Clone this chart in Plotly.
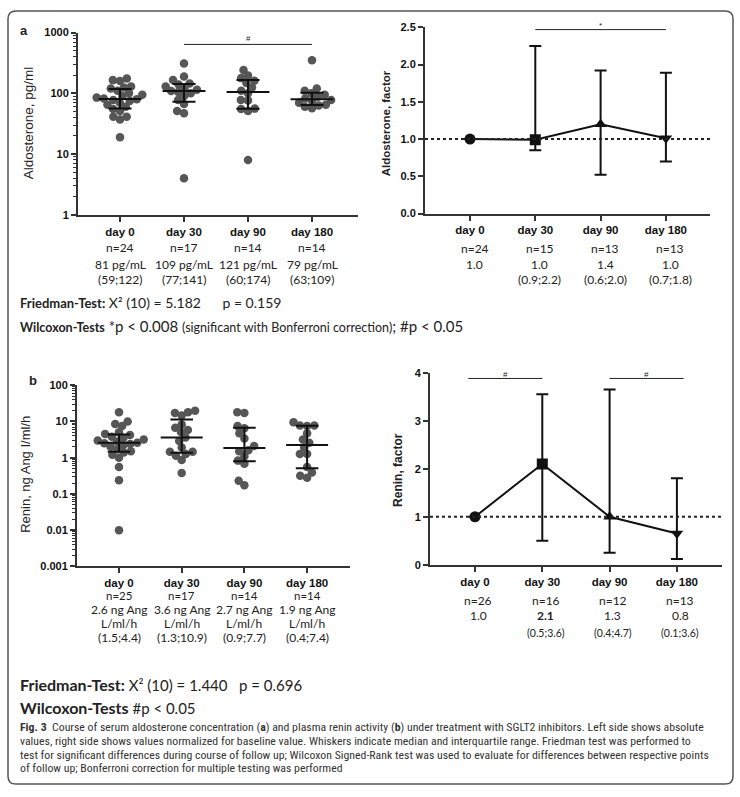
import numpy as np
import plotly.graph_objects as go

W, H = 740, 797


def fx(px):
    return px / W


def fy(py):
    return 1 - py / H


# ---------------- DATA ----------------
days = ["day 0", "day 30", "day 90", "day 180"]

# Aldosterone absolute (pg/ml)
aldo_day0 = [19, 37, 41, 41, 51, 55, 60, 65, 70, 75, 78, 80, 82, 85, 90, 95, 100, 110, 120, 125, 130, 160, 165, 175]
aldo_day30 = [4, 47, 51, 67, 78, 90, 100, 105, 109, 115, 120, 130, 140, 145, 166, 189, 310]
aldo_day90 = [8, 51, 55, 56, 76, 78, 100, 110, 125, 148, 161, 178, 196, 242]
aldo_day180 = [57, 60, 63, 65, 70, 75, 78, 82, 88, 95, 100, 110, 120, 350]
aldo_n = ["n=24", "n=17", "n=14", "n=14"]
aldo_med_text = ["81 pg/mL", "109 pg/mL", "121 pg/mL", "79 pg/mL"]
aldo_iqr_text = ["(59;122)", "(77;141)", "(60;174)", "(63;109)"]

# Aldosterone factor
aldo_f_med = [1.0, 0.99, 1.2, 1.01]
aldo_f_lo = [1.0, 0.85, 0.52, 0.70]
aldo_f_hi = [1.0, 2.25, 1.92, 1.89]
aldo_f_n = ["n=24", "n=15", "n=13", "n=13"]
aldo_f_med_text = ["1.0", "1.0", "1.4", "1.0"]
aldo_f_iqr_text = ["", "(0.9;2.2)", "(0.6;2.0)", "(0.7;1.8)"]

# Renin absolute (ng Ang I/ml/h)
renin_day0 = [0.01, 0.24, 0.55, 1.0, 1.2, 1.4, 1.5, 1.7, 2.0, 2.2, 2.4, 2.5, 2.6, 2.8, 3.0, 3.2, 3.5, 3.8, 4.2, 4.5, 5.0, 7.5, 8.5, 10, 18]
renin_day30 = [0.38, 0.87, 1.14, 1.26, 1.46, 1.46, 1.9, 2.9, 3.6, 5.1, 5.8, 6.7, 8.2, 14.5, 17, 18, 19.7]
renin_day90 = [0.175, 0.23, 0.68, 0.83, 1.1, 1.5, 1.6, 2.1, 3.4, 4.7, 6.5, 7.5, 17, 18]
renin_day180 = [0.28, 0.32, 0.39, 0.55, 1.26, 1.26, 1.9, 2.6, 3.2, 4.7, 7.5, 7.7, 7.7, 9.5]
renin_n = ["n=25", "n=17", "n=14", "n=14"]
renin_med_text = ["2.6 ng Ang", "3.6 ng Ang", "2.7 ng Ang", "1.9 ng Ang"]
renin_unit_text = ["L/ml/h", "L/ml/h", "L/ml/h", "L/ml/h"]
renin_iqr_text = ["(1.5;4.4)", "(1.3;10.9)", "(0.9;7.7)", "(0.4;7.4)"]

# Renin factor
renin_f_med = [1.0, 2.1, 1.0, 0.65]
renin_f_lo = [1.0, 0.5, 0.25, 0.12]
renin_f_hi = [1.0, 3.55, 3.65, 1.8]
renin_f_n = ["n=26", "n=16", "n=12", "n=13"]
renin_f_med_text = ["1.0", "<b>2.1</b>", "1.3", "0.8"]
renin_f_iqr_text = ["", "(0.5;3.6)", "(0.4;4.7)", "(0.1;3.6)"]

symbols = ["circle", "square", "triangle-up", "triangle-down"]

aldo_sig = [(1, 3, "#")]
aldo_f_sig = [(1, 3, "*")]
renin_f_sig = [(0, 1, "#"), (2, 3, "#")]

# ---------------- LAYOUT GEOMETRY (pixels) ----------------
# (x0, x1, ytop, ybottom)
A_L = (78, 358, 27, 212)
A_R = (425, 710, 21.7, 210.7)
B_L = (77, 350, 385, 569)
B_R = (430, 722, 372.3, 567.3)

AXC = "#333333"
PT = "#565656"
FONT_AX = "Arial, Liberation Sans, sans-serif"
FONT_TXT = "Lato, Open Sans, sans-serif"


def swarm(vals, ppd, cat_px, d=7.2):
    ys = np.log10(np.array(vals, float)) * ppd
    order = np.argsort(ys)
    xs = np.zeros(len(vals))
    placed = []
    for i in order:
        yi = ys[i]
        intervals = []
        for j in placed:
            dy = abs(yi - ys[j])
            if dy < d:
                h = np.sqrt(d * d - dy * dy)
                intervals.append((xs[j] - h, xs[j] + h))
        cands = [0.0] + [e for iv in intervals for e in iv]
        cands.sort(key=lambda c: (abs(c), c))
        for c in cands:
            if all(not (a + 1e-6 < c < b - 1e-6) for a, b in intervals):
                xs[i] = c
                break
        placed.append(i)
    return xs / cat_px


fig = go.Figure()


def axis_common():
    return dict(showline=True, linecolor=AXC, linewidth=2, ticks="outside", ticklen=5,
                tickwidth=2, tickcolor=AXC, showgrid=False, zeroline=False, mirror=False)


def add_scatter_panel(groups, ppd, cat_px, xa, ya):
    for k, vals in enumerate(groups):
        off = swarm(vals, ppd, cat_px)
        fig.add_trace(go.Scatter(x=k + off, y=vals, mode="markers", xaxis=xa, yaxis=ya,
                                 marker=dict(color=PT, size=8.5, line=dict(width=0)),
                                 showlegend=False, hoverinfo="y"))
    for k, vals in enumerate(groups):
        q1, med, q3 = np.percentile(vals, [25, 50, 75], method="weibull")
        hw, cw = 0.335, 0.18
        xs = [k - hw, k + hw, None, k - cw, k + cw, None, k - cw, k + cw, None, k, k]
        ys = [med, med, None, q1, q1, None, q3, q3, None, q1, q3]
        fig.add_trace(go.Scatter(x=xs, y=ys, mode="lines", xaxis=xa, yaxis=ya,
                                 line=dict(color="#111111", width=2), showlegend=False,
                                 hoverinfo="skip"))


def add_factor_panel(med, lo, hi, xa, ya):
    xs = list(range(len(med)))
    fig.add_trace(go.Scatter(x=xs, y=med, mode="lines", xaxis=xa, yaxis=ya,
                             line=dict(color="#111111", width=2), showlegend=False))
    for k in xs:
        fig.add_trace(go.Scatter(
            x=[k], y=[med[k]], mode="markers", xaxis=xa, yaxis=ya, showlegend=False,
            marker=dict(symbol=symbols[k], size=11, color="#111111"),
            error_y=dict(type="data", symmetric=False, array=[hi[k] - med[k]],
                         arrayminus=[med[k] - lo[k]], color="#111111", thickness=2, width=6)))


def dom(box):
    x0, x1, yt, yb = box
    return [fx(x0), fx(x1)], [fy(yb), fy(yt)]


def xrange(box, c0px, step):
    x0, x1, _, _ = box
    return [(x0 - c0px) / step, (x1 - c0px) / step]


add_scatter_panel([aldo_day0, aldo_day30, aldo_day90, aldo_day180], 185 / 3, 64, "x", "y")
add_factor_panel(aldo_f_med, aldo_f_lo, aldo_f_hi, "x2", "y2")
add_scatter_panel([renin_day0, renin_day30, renin_day90, renin_day180], 184 / 5, 62.7, "x3", "y3")
add_factor_panel(renin_f_med, renin_f_lo, renin_f_hi, "x4", "y4")

xt = dict(tickmode="array", tickvals=[0, 1, 2, 3], ticktext=days,
          tickfont=dict(family=FONT_AX, size=11.5, color="#111", weight="bold"))
ytf = dict(family=FONT_AX, size=11, color="#111", weight="bold")


def log_minor(lo_exp, hi_exp):
    return [m * 10 ** e for e in range(lo_exp, hi_exp) for m in range(2, 10)]


d = dom(A_L)
fig.update_layout(
    xaxis=dict(domain=d[0], range=xrange(A_L, 120, 64), anchor="y", **axis_common(), **xt),
    yaxis=dict(domain=d[1], type="log", range=[0, 3], anchor="x", tickvals=[1, 10, 100, 1000],
               ticktext=["1", "10", "100", "1000"], tickfont=ytf, **axis_common(),
               minor=dict(tickmode="array", tickvals=log_minor(0, 3), ticks="outside", ticklen=3,
                          tickwidth=1, tickcolor=AXC)),
)
d = dom(A_R)
fig.update_layout(
    xaxis2=dict(domain=d[0], range=xrange(A_R, 470, 65.3), anchor="y2", **axis_common(), **xt),
    yaxis2=dict(domain=d[1], range=[0, 2.5], anchor="x2", tickvals=[0, 0.5, 1, 1.5, 2, 2.5],
                ticktext=["0.0", "0.5", "1.0", "1.5", "2.0", "2.5"], tickfont=ytf, **axis_common()),
)
d = dom(B_L)
fig.update_layout(
    xaxis3=dict(domain=d[0], range=xrange(B_L, 119, 62.7), anchor="y3", **axis_common(), **xt),
    yaxis3=dict(domain=d[1], type="log", range=[-3, 2], anchor="x3",
                tickvals=[0.001, 0.01, 0.1, 1, 10, 100],
                ticktext=["0.001", "0.01", "0.1", "1", "10", "100"], tickfont=ytf, **axis_common(),
                minor=dict(tickmode="array", tickvals=log_minor(-3, 2), ticks="outside", ticklen=3,
                           tickwidth=1, tickcolor=AXC)),
)
d = dom(B_R)
fig.update_layout(
    xaxis4=dict(domain=d[0], range=xrange(B_R, 475, 67.3), anchor="y4", **axis_common(), **xt),
    yaxis4=dict(domain=d[1], range=[0, 4], anchor="x4", tickvals=[0, 1, 2, 3, 4],
                tickfont=ytf, **axis_common()),
)

shapes = []
annots = []

for xa, ya in (("x2", "y2"), ("x4", "y4")):
    shapes.append(dict(type="line", xref=f"{xa} domain", yref=ya, x0=0, x1=1, y0=1, y1=1,
                       line=dict(color="#222", width=2, dash="dot")))


def sig(pairs, xa, yref, yline, ytext, pad0=0.0, pad1=0.0):
    for a, b, s in pairs:
        p0 = pad0 if a == 0 else 0
        p1 = pad1 if b == 3 else 0
        shapes.append(dict(type="line", xref=xa, yref=yref, x0=a - p0, x1=b + p1, y0=yline, y1=yline,
                           line=dict(color="#222", width=1)))
        annots.append(dict(x=(a - p0 + b + p1) / 2, y=ytext, xref=xa, yref=yref, text=s,
                           showarrow=False, font=dict(family=FONT_AX, size=8, color="#222"),
                           yanchor="middle"))


sig(aldo_sig, "x", "y domain", 0.935, 0.965)
sig(aldo_f_sig, "x2", "y2 domain", 2.47 / 2.5, 1.012)
sig(renin_f_sig, "x4", "y4 domain", 3.88 / 4, 0.99, pad0=0.1, pad1=0.1)


def txt(x, y, s, xref="paper", size=12, family=FONT_TXT, xanchor="center", color="#222", **kw):
    annots.append(dict(x=x, y=y, xref=xref, yref="paper", text=s, showarrow=False,
                       xanchor=xanchor, yanchor="middle",
                       font=dict(family=family, size=size, color=color), **kw))


for k in range(4):
    txt(k, fy(245), aldo_n[k], xref="x")
    txt(k, fy(262), aldo_med_text[k], xref="x")
    txt(k, fy(278), aldo_iqr_text[k], xref="x")
    txt(k + 0.07, fy(246), aldo_f_n[k], xref="x2")
    txt(k + 0.07, fy(262), aldo_f_med_text[k], xref="x2")
    txt(k + 0.07, fy(278), aldo_f_iqr_text[k], xref="x2")
    txt(k, fy(599), renin_n[k], xref="x3", size=11.5)
    txt(k, fy(612.5), renin_med_text[k], xref="x3")
    txt(k, fy(626.5), renin_unit_text[k], xref="x3")
    txt(k, fy(641), renin_iqr_text[k], xref="x3")
    txt(k + 0.05, fy(604), renin_f_n[k], xref="x4")
    txt(k + 0.05, fy(619), renin_f_med_text[k], xref="x4")
    txt(k + 0.05, fy(637), renin_f_iqr_text[k], xref="x4", size=10.5)

txt(fx(28), fy(119), "Aldosterone, pg/ml", family=FONT_AX, size=13.5, textangle=-90)
txt(fx(386), fy(119), "<b>Aldosterone, factor</b>", family=FONT_AX, size=11.5, textangle=-90)
txt(fx(26), fy(476), "Renin, ng Ang I/ml/h", family=FONT_AX, size=13, textangle=-90)
txt(fx(398), fy(471), "<b>Renin, factor</b>", family=FONT_AX, size=12, textangle=-90)

txt(fx(24), fy(25), "<b>a</b>", family=FONT_AX, size=13)
txt(fx(33), fy(380), "<b>b</b>", family=FONT_AX, size=13)

SP = "&nbsp;"
txt(fx(18), fy(301),
    "<b><span style='font-size:13px'>Friedman-Test:</span></b> X² (10) = 5.182" + SP * 6 + "p = 0.159",
    size=14, xanchor="left")
txt(fx(18), fy(325),
    "<b><span style='font-size:12.5px'>Wilcoxon-Tests</span></b> *p &lt; 0.008 "
    "<span style='font-size:12.5px'>(significant with Bonferroni correction)</span>; #p &lt; 0.05",
    size=15, xanchor="left")
txt(fx(18), fy(689),
    "<b><span style='font-size:16px'>Friedman-Test:</span></b> X² (10) = 1.440" + SP * 3 + "p = 0.696",
    size=15, xanchor="left")
txt(fx(18), fy(712),
    "<b><span style='font-size:16px'>Wilcoxon-Tests</span></b> #p &lt; 0.05",
    size=15, xanchor="left")

caption_lines = [
    "<b>Fig. 3</b>  Course of serum aldosterone concentration (<b>a</b>) and plasma renin activity (<b>b</b>) under treatment with SGLT2 inhibitors. Left side shows absolute",
    "values, right side shows values normalized for baseline value. Whiskers indicate median and interquartile range. Friedman test was performed to",
    "test for significant differences during course of follow up; Wilcoxon Signed-Rank test was used to evaluate for differences between respective points",
    "of follow up; Bonferroni correction for multiple testing was performed",
]
for i, line in enumerate(caption_lines):
    txt(fx(18), fy(732 + 14 * i), line, size=11.8, xanchor="left", color="#333",
        family="Liberation Sans Narrow, Roboto Condensed, Arial Narrow, sans-serif")

r = 8
x0, x1, y0, y1 = 8, 733, 5, 790
path = (f"M {fx(x0 + r)},{fy(y0)} L {fx(x1 - r)},{fy(y0)} Q {fx(x1)},{fy(y0)} {fx(x1)},{fy(y0 + r)} "
        f"L {fx(x1)},{fy(y1 - r)} Q {fx(x1)},{fy(y1)} {fx(x1 - r)},{fy(y1)} "
        f"L {fx(x0 + r)},{fy(y1)} Q {fx(x0)},{fy(y1)} {fx(x0)},{fy(y1 - r)} "
        f"L {fx(x0)},{fy(y0 + r)} Q {fx(x0)},{fy(y0)} {fx(x0 + r)},{fy(y0)} Z")
shapes.append(dict(type="path", xref="paper", yref="paper", path=path,
                   line=dict(color="#555", width=1.5)))

fig.update_layout(
    width=W, height=H, margin=dict(l=0, r=0, t=0, b=0),
    paper_bgcolor="white", plot_bgcolor="white", showlegend=False,
    shapes=shapes, annotations=annots,
)

fig.write_html("out.html", config={"displayModeBar": False},
               post_script="document.body.style.margin='0';document.body.style.padding='0';"
                           "document.documentElement.style.overflow='hidden';")
